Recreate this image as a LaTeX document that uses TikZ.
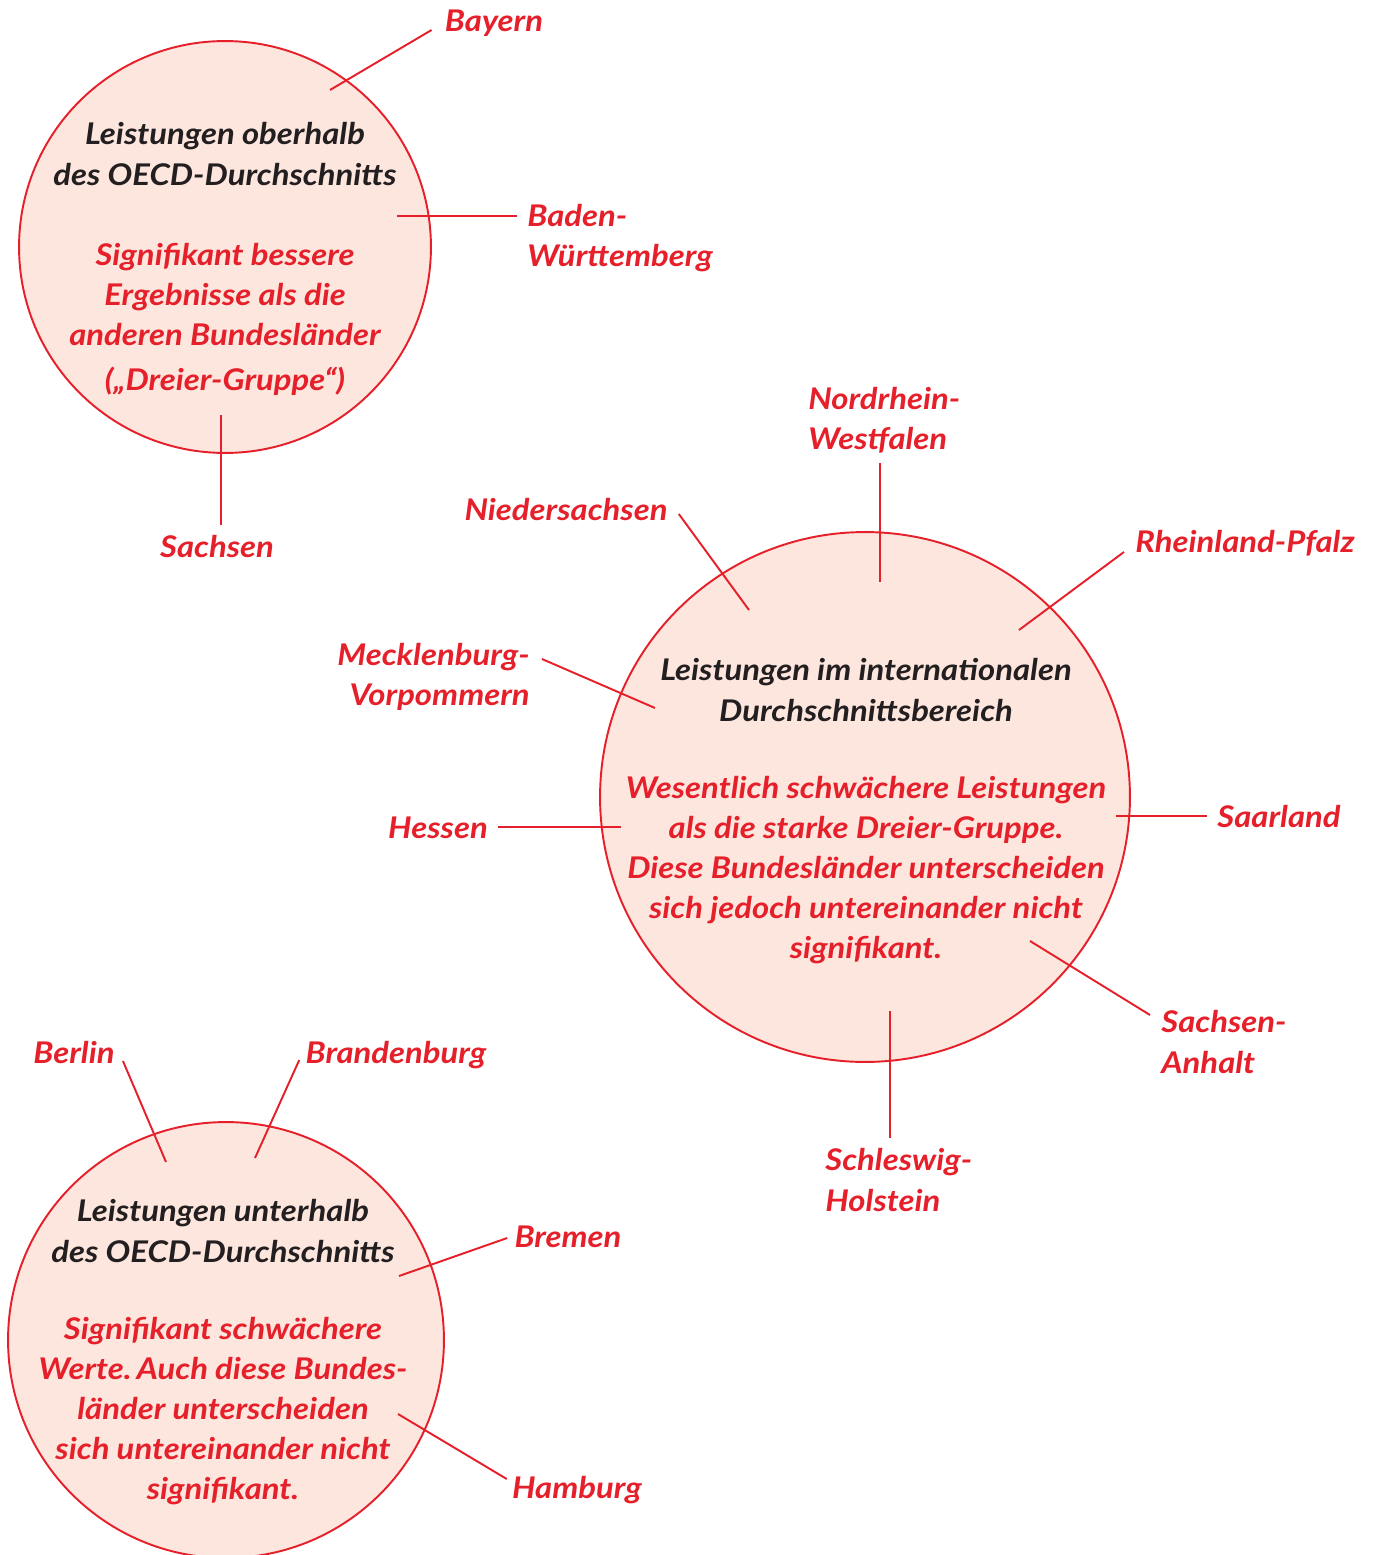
\documentclass[tikz,border=0pt]{standalone}
\usepackage{fontspec}
\setsansfont{Lato}[FakeStretch=1.1]
\usepackage{xcolor}
\usetikzlibrary{positioning,calc}

\definecolor{rot}{HTML}{E5202A}
\definecolor{haut}{HTML}{FDE6DE}
\definecolor{dunkel}{HTML}{231F20}

\begin{document}
\begin{tikzpicture}[x=0.02cm, y=-0.02cm,
    kreis/.style={circle, draw=rot, fill=haut, line width=1.1pt, inner sep=0pt, outer sep=0pt},
    schrift/.style={font=\fontsize{17}{22.8}\selectfont\sffamily\bfseries\itshape},
    titel/.style={schrift, text=dunkel, align=center},
    befund/.style={schrift, text=rot, align=center},
    land/.style={schrift, text=rot, inner sep=0.2cm},
    strich/.style={draw=rot, line width=1.1pt}]
    \useasboundingbox (0,0) rectangle (1373,1555);

    % Kreise
    \node[kreis, minimum size=8.24cm] (oben) at (225,247) {};
    \node[kreis, minimum size=10.6cm] (mitte) at (865,797) {};
    \node[kreis, minimum size=8.72cm] (unten) at (226,1340) {};

    % innere Enden der Striche
    \coordinate (bayIn) at (330,90);
    \coordinate (bwIn) at (397,216);
    \coordinate (sachIn) at (221,415);
    \coordinate (nrwIn) at (880,582);
    \coordinate (ndsIn) at (749,610);
    \coordinate (rlpIn) at (1019,630);
    \coordinate (meckIn) at (655,708);
    \coordinate (hesIn) at (621,827);
    \coordinate (saarIn) at (1116,816);
    \coordinate (saIn) at (1030,941);
    \coordinate (shIn) at (890,1011);
    \coordinate (berIn) at (166,1162);
    \coordinate (braIn) at (255,1158);
    \coordinate (breIn) at (399,1276);
    \coordinate (hamIn) at (398,1414);

    % Texte in den Kreisen
    \node[titel] (obenT) at (225,154) {Leistungen oberhalb\\des OECD-Durchschnitts};
    \node[befund] (obenB) at (225,319) {Signifikant bessere\\Ergebnisse als die\\anderen Bundesländer\\[0.1cm](„Dreier-Gruppe“)};
    \node[titel] (mitteT) at (866,690) {Leistungen im internationalen\\Durchschnittsbereich};
    \node[befund] (mitteB) at (866,870) {Wesentlich schwächere Leistungen\\als die starke Dreier-Gruppe.\\Diese Bundesländer unterscheiden\\sich jedoch untereinander nicht\\signifikant.};
    \node[titel] (untenT) at (223,1231) {Leistungen unterhalb\\des OECD-Durchschnitts};
    \node[befund] (untenB) at (223,1411) {Signifikant schwächere\\Werte.\,Auch diese Bundes-\\länder unterscheiden\\sich untereinander nicht\\signifikant.};

    % Bundesländer
    \node[land] (bay) at (494,23) {Bayern};
    \node[land, align=left, anchor=west] (bw) at (517,238) {Baden-\\Württemberg};
    \node[land] (sach) at (217,547) {Sachsen};
    \node[land, align=left, anchor=west] (nrw) at (798,420) {Nordrhein-\\Westfalen};
    \node[land] (nds) at (566,510) {Niedersachsen};
    \node[land] (rlp) at (1245,543) {Rheinland-Pfalz};
    \node[land, align=right, anchor=east] (meck) at (540,677) {Mecklenburg-\\Vorpommern};
    \node[land] (hes) at (438,828) {Hessen};
    \node[land] (saar) at (1279,817) {Saarland};
    \node[land, align=left, anchor=west] (sa) at (1151,1042) {Sachsen-\\Anhalt};
    \node[land, align=left, anchor=west] (sh) at (815,1180) {Schleswig-\\Holstein};
    \node[land] (ber) at (74,1053) {Berlin};
    \node[land] (bra) at (396,1055) {Brandenburg};
    \node[land] (bre) at (568,1237) {Bremen};
    \node[land] (ham) at (577,1490) {Hamburg};

    % Striche
    \draw[strich] (bayIn) -- ($(bay.west)+(-3,7)$);
    \draw[strich] (bwIn) -- (bwIn -| bw.west);
    \draw[strich] (sachIn) -- (sachIn |- sach.north);
    \draw[strich] (nrwIn) -- (nrwIn |- nrw.south);
    \draw[strich] (ndsIn) -- ($(nds.east)+(1,4)$);
    \draw[strich] (rlpIn) -- ($(rlp.west)+(-1,9)$);
    \draw[strich] (meckIn) -- ($(meck.east)+(2,-18)$);
    \draw[strich] (hesIn) -- (hesIn -| hes.east);
    \draw[strich] (saarIn) -- (saarIn -| saar.west);
    \draw[strich] (saIn) -- ($(sa.west)+(-1,-27)$);
    \draw[strich] (shIn) -- (shIn |- sh.north);
    \draw[strich] (berIn) -- ($(ber.east)+(-2,8)$);
    \draw[strich] (braIn) -- ($(bra.west)+(4,5)$);
    \draw[strich] (breIn) -- ($(bre.west)+(3,1)$);
    \draw[strich] (hamIn) -- ($(ham.west)+(5,-11)$);
\end{tikzpicture}
\end{document}
